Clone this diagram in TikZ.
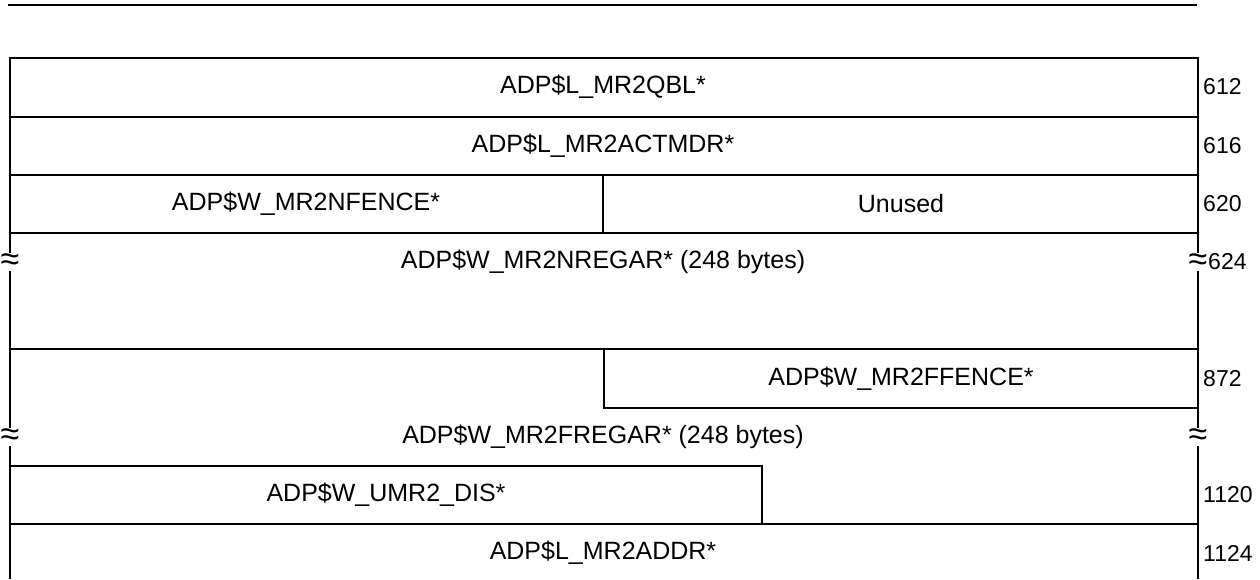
\documentclass[tikz,border=0pt]{standalone}
\usepackage{fontspec}
\setmainfont{Liberation Sans}
\begin{document}
\begin{tikzpicture}[x=1pt,y=-1pt,
  fld/.style={font=\fontsize{25}{28}\selectfont,inner sep=0pt},
  ofs/.style={font=\fontsize{23}{26}\selectfont,anchor=west,inner sep=0pt},
  brk/.style={fill=white,inner sep=0.5pt,font=\fontsize{34}{34}\selectfont},
  rl/.style={line width=2.9pt}
]
  \useasboundingbox (0,0) rectangle (1260,579);
  \draw[rl](8,5)--(1197,5);
  % frame and rows
  \draw[rl](10,579)--(10,58)--(1198,58)--(1198,579);
  \foreach \y in {117,175,233,349,524}{\draw[rl](10,\y)--(1198,\y);}
  \draw[rl](603,175)--(603,233);
  \draw[rl](604,349)--(604,408)--(1198,408);
  \draw[rl](10,466)--(762,466)--(762,524);
  % field names
  \node[fld](qbl) at (603,87) {ADP\$L\_MR2QBL*};
  \node[fld](actmdr) at (603,146) {ADP\$L\_MR2ACTMDR*};
  \node[fld](nfence) at (306,204) {ADP\$W\_MR2NFENCE*};
  \node[fld](unused) at (901,204) {Unused};
  \node[fld](nregar) at (603,262) {ADP\$W\_MR2NREGAR* (248 bytes)};
  \node[fld](ffence) at (901,379) {ADP\$W\_MR2FFENCE*};
  \node[fld](fregar) at (603,437) {ADP\$W\_MR2FREGAR* (248 bytes)};
  \node[fld](umrdis) at (386,495) {ADP\$W\_UMR2\_DIS*};
  \node[fld](addr) at (603,553) {ADP\$L\_MR2ADDR*};
  % breaks
  \node[brk](bl1) at (10,262) {≈};
  \node[brk](br1) at (1198,262) {≈};
  \node[brk](bl2) at (10,437) {≈};
  \node[brk](br2) at (1198,437) {≈};
  % offsets
  \foreach \nm/\y/\t in {o612/87/612,o616/146/616,o620/204/620,o872/379/872,o1120/495/1120,o1124/553/1124}
    {\node[ofs](\nm) at (1203,\y) {\t};}
  \node[ofs](o624) at (1208,262) {624};
\end{tikzpicture}
\end{document}
